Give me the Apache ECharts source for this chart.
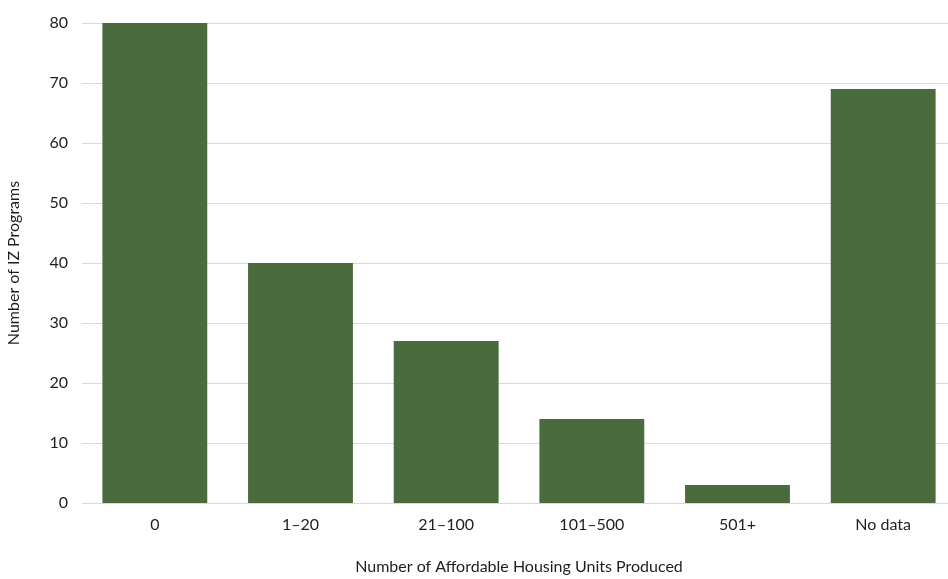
<!DOCTYPE html>
<html>
<head>
<meta charset="utf-8">
<script src="https://cdn.jsdelivr.net/npm/echarts@6/dist/echarts.min.js"></script>
<style>html,body{margin:0;padding:0;background:#fff}#c{width:948px;height:579px}</style>
</head>
<body>
<div id="c"></div>
<script>
var categories = ['0', '1\u201320', '21\u2013100', '101\u2013500', '501+', 'No data'];
var values = [80, 40, 27, 14, 3, 69];
var yTicks = [0, 10, 20, 30, 40, 50, 60, 70, 80];

var FONT = 'Lato, "Open Sans", sans-serif';
var chart = echarts.init(document.getElementById('c'));
chart.setOption({
  animation: false,
  grid: { left: 82, top: 23, right: -8, bottom: 76, containLabel: false, outerBoundsMode: 'none' },
  xAxis: {
    type: 'category',
    data: categories,
    axisLine: { show: false },
    axisTick: { show: false },
    axisLabel: { color: '#1e1e1e', fontFamily: FONT, fontSize: 16, margin: 14 },
    name: 'Number of Affordable Housing Units Produced',
    nameLocation: 'middle',
    nameGap: 56,
    nameTextStyle: { color: '#1e1e1e', fontFamily: FONT, fontSize: 16 }
  },
  yAxis: {
    type: 'value',
    min: yTicks[0],
    max: yTicks[yTicks.length - 1],
    interval: 10,
    axisLine: { show: false },
    axisTick: { show: false },
    splitLine: { lineStyle: { color: '#d9d9d9', width: 1 } },
    axisLabel: { color: '#1e1e1e', fontFamily: FONT, fontSize: 16, margin: 14 },
    name: 'Number of IZ Programs',
    nameLocation: 'middle',
    nameGap: 60,
    nameTextStyle: { color: '#1e1e1e', fontFamily: FONT, fontSize: 16 }
  },
  series: [{
    type: 'bar',
    data: values,
    barCategoryGap: '28%',
    itemStyle: { color: '#4a6b3d' }
  }]
});
</script>
</body>
</html>
